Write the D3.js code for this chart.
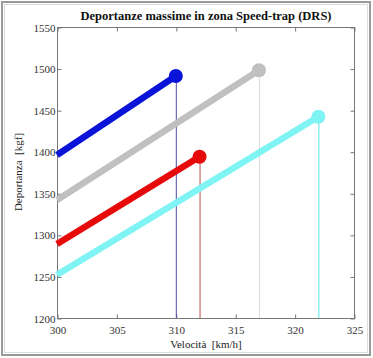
<!DOCTYPE html>
<html><head><meta charset="utf-8">
<script src="https://cdn.jsdelivr.net/npm/d3@7"></script>
<style>body{margin:0;background:#fff}svg{display:block}text{white-space:pre}</style>
</head><body><svg id="c" width="373" height="358"></svg>
<script>
const title = "Deportanze massime in zona Speed-trap (DRS)";
const xLabel = "Velocità  [km/h]";
const yLabel = "Deportanza  [kgf]";
const xTicks = [300, 305, 310, 315, 320, 325];
const yTicks = [1200, 1250, 1300, 1350, 1400, 1450, 1500, 1550];
const seriesNames = ["blue", "gray", "red", "cyan"];
const startX = [300, 300, 300, 300];
const startY = [1396, 1342, 1289, 1252];
const endX = [310, 317, 312, 322];
const endY = [1491, 1498, 1394, 1442];
const lineColors = ["#0a14d8", "#c0c0c0", "#e60a0a", "#80f4f4"];
const dropColors = ["#4a4aa8", "#dcdcdc", "#b85050", "#50e4e4"];

const svg = d3.select("#c");
svg.append("rect").attr("x",2).attr("y",2).attr("width",368).attr("height",353)
  .attr("fill","#fff").attr("stroke","#999").attr("stroke-width",2);
svg.append("rect").attr("x",4.5).attr("y",4.5).attr("width",363).attr("height",348)
  .attr("fill","none").attr("stroke","#ddd").attr("stroke-width",1);

const L=57,R=354,T=27,B=318;
const x = d3.scaleLinear().domain([300,325]).range([L,R]);
const y = d3.scaleLinear().domain([1200,1550]).range([B,T]);
const font = "'Liberation Serif', 'DejaVu Serif', serif";

const g = svg.append("g");
g.append("rect").attr("x",L+0.5).attr("y",T+0.5).attr("width",R-L).attr("height",B-T)
  .attr("fill","none").attr("stroke","#777").attr("stroke-width",1);

function styleAxis(sel){
  sel.select(".domain").remove();
  sel.selectAll(".tick line").attr("stroke","#777");
  sel.selectAll(".tick text").attr("fill","#333").attr("font-family",font).attr("font-size","11px");
}
g.append("g").attr("transform",`translate(0.5,${B+0.5})`)
  .call(d3.axisBottom(x).tickValues(xTicks).tickSize(-4).tickPadding(8).tickFormat(d3.format("d")))
  .call(styleAxis);
g.append("g").attr("transform",`translate(0.5,${T+0.5})`)
  .call(d3.axisTop(x).tickValues(xTicks).tickSize(-4).tickFormat(""))
  .call(styleAxis);
g.append("g").attr("transform",`translate(${L+0.5},0.5)`)
  .call(d3.axisLeft(y).tickValues(yTicks).tickSize(-4).tickPadding(2).tickFormat(d3.format("d")))
  .call(styleAxis);
g.append("g").attr("transform",`translate(${R+0.5},0.5)`)
  .call(d3.axisRight(y).tickValues(yTicks).tickSize(-4).tickFormat(""))
  .call(styleAxis);

const data = seriesNames.map((n,i)=>({n,x0:startX[i],y0:startY[i],x1:endX[i],y1:endY[i],c:lineColors[i],d:dropColors[i]}));
data.forEach(s=>{
  g.append("line").attr("x1",x(s.x1)+0.5).attr("x2",x(s.x1)+0.5).attr("y1",y(s.y1)).attr("y2",B)
    .attr("stroke",s.d).attr("stroke-width",1);
});
data.forEach(s=>{
  g.append("line").attr("x1",x(s.x0)).attr("y1",y(s.y0)).attr("x2",x(s.x1)).attr("y2",y(s.y1))
    .attr("stroke",s.c).attr("stroke-width",6.5);
  g.append("circle").attr("cx",x(s.x1)).attr("cy",y(s.y1)).attr("r",7).attr("fill",s.c);
});

svg.append("text").attr("x",206).attr("y",20).attr("text-anchor","middle")
  .attr("font-family",font).attr("font-size","12.5px").attr("font-weight","bold").attr("fill","#111").text(title);
svg.append("text").attr("x",206).attr("y",348).attr("text-anchor","middle")
  .attr("font-family",font).attr("font-size","11px").attr("fill","#222").text(xLabel);
svg.append("text").attr("transform","translate(22,172) rotate(-90)").attr("text-anchor","middle")
  .attr("font-family",font).attr("font-size","11px").attr("fill","#222").text(yLabel);
</script></body></html>
